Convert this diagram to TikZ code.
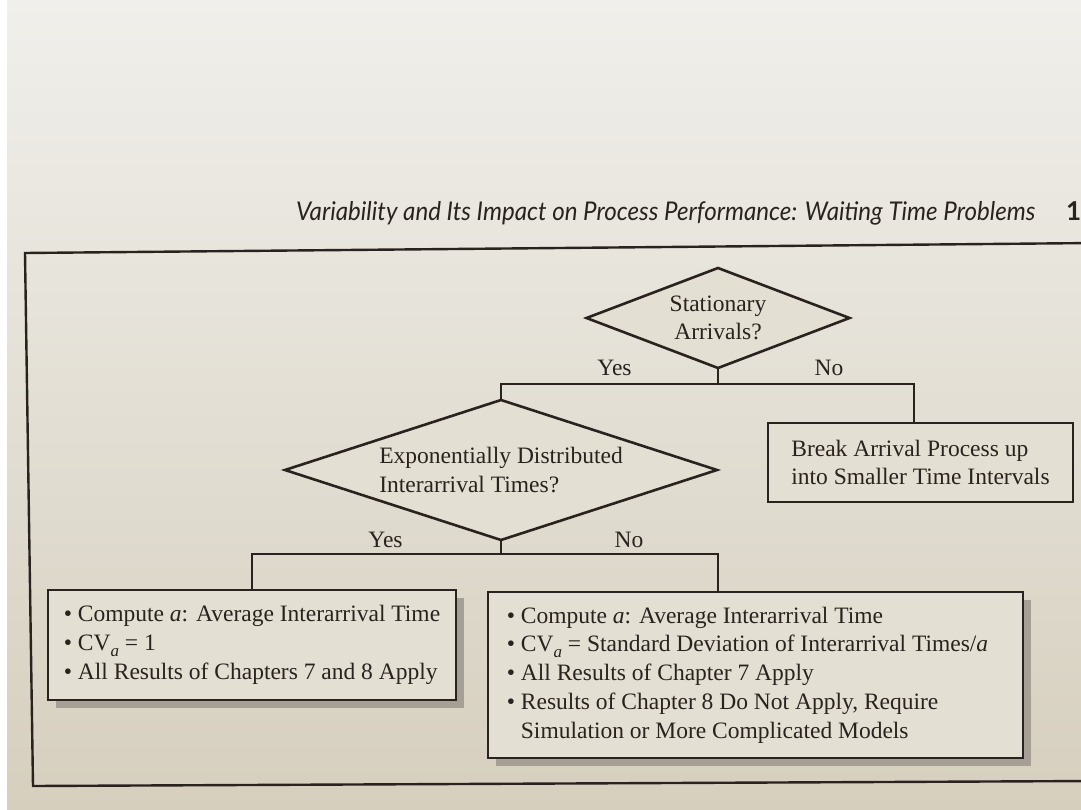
\documentclass[tikz,border=0pt]{standalone}
\usepackage{fontspec}
\setmainfont{Liberation Serif}
\newfontfamily\hdrfont{Lato}
\usetikzlibrary{shapes.geometric,shadows,calc}
\definecolor{inkc}{RGB}{42,34,30}
\definecolor{papertop}{RGB}{240,239,235}
\definecolor{papermid}{RGB}{226,221,207}
\definecolor{paperbot}{RGB}{214,207,190}
\definecolor{boxc}{RGB}{227,223,211}
\definecolor{shadowc}{RGB}{165,159,149}
\newcommand\bodyfont{\fontsize{23.5}{28.7}\selectfont}
\newcommand\subA{\raisebox{-6pt}{\fontsize{17}{17}\selectfont\itshape a}}
\begin{document}
\begin{tikzpicture}[x=1pt,y=-1pt,
  ln/.style={draw=inkc,line width=2.6pt},
  dia/.style={diamond,ln,fill=boxc,inner sep=0pt,outer sep=0pt,align=center,font=\bodyfont,text=inkc},
  boxn/.style={rectangle,ln,fill=boxc,inner sep=0pt,outer sep=0pt,anchor=north west,align=left,font=\bodyfont,text=inkc},
  shad/.style={drop shadow={shadow xshift=8pt,shadow yshift=-8pt,fill=shadowc,opacity=1}},
  lbl/.style={anchor=base,inner sep=0pt,font=\bodyfont,text=inkc},
  conn/.style={draw=inkc,line width=2.6pt}
]
\useasboundingbox (0,0) rectangle (1081,810);
\shade[top color=papertop,middle color=papermid,bottom color=paperbot] (0,0) rectangle (1081,810);
\fill[white] (0,0) rectangle (7,810);

% header
\node[anchor=base west,inner sep=0pt,text=inkc] (hdr) at (296,221)
  {\resizebox{739pt}{19pt}{\hdrfont\itshape Variability and Its Impact on Process Performance: Waiting Time Problems}};
\node[anchor=base west,inner sep=0pt,text=inkc] (pg) at (1066,221)
  {\hdrfont\bfseries\fontsize{26}{26}\selectfont 13};

% outer frame
\draw[ln,line width=2.4pt,line join=miter] (1095,243) -- (25,253) -- (33,786) -- (1095,781);

% decisions
\node[dia,minimum width=263pt,minimum height=100pt,aspect=2.63] (d1) at (718,318) {Stationary\\Arrivals?};
\node[dia,align=left,minimum width=432pt,minimum height=140pt,aspect=3.086] (d2) at (501,470) {Exponentially Distributed\\Interarrival Times?};

% outcome boxes
\node[boxn,minimum width=305pt,minimum height=79pt] (b3) at (768,423) {Break Arrival Process up\\into Smaller Time Intervals};
\node[boxn,shad,minimum width=408pt,minimum height=110pt] (b4) at (48,590)
  {• Compute \textit{a}: Average Interarrival Time\\• CV\subA{} = 1\\• All Results of Chapters 7 and 8 Apply};
\node[boxn,shad,minimum width=535pt,minimum height=166pt] (b5) at (488,592)
  {• Compute \textit{a}: Average Interarrival Time\\• CV\subA{} = Standard Deviation of Interarrival Times/\textit{a}\rule{16pt}{0pt}\\• All Results of Chapter 7 Apply\\• Results of Chapter 8 Do Not Apply, Require\\\phantom{• }Simulation or More Complicated Models};

% connectors
\coordinate (j1) at ($(d1.south)+(0,16)$);
\coordinate (b3in) at ($(b3.north west)+(146,0)$);
\draw[conn] (d1.south) -- (j1);
\draw[conn] (d2.north) |- (j1) -| (b3in);
\coordinate (j2) at ($(d2.south)+(0,14)$);
\coordinate (b5in) at ($(b5.north west)+(230,0)$);
\draw[conn] (d2.south) -- (j2);
\draw[conn] (b4.north) |- (j2) -| (b5in);

% branch labels
\node[lbl] (y1) at (614.5,375) {Yes};
\node[lbl] (n1) at (829,375) {No};
\node[lbl] (y2) at (385.5,547) {Yes};
\node[lbl] (n2) at (629,547) {No};
\end{tikzpicture}
\end{document}
